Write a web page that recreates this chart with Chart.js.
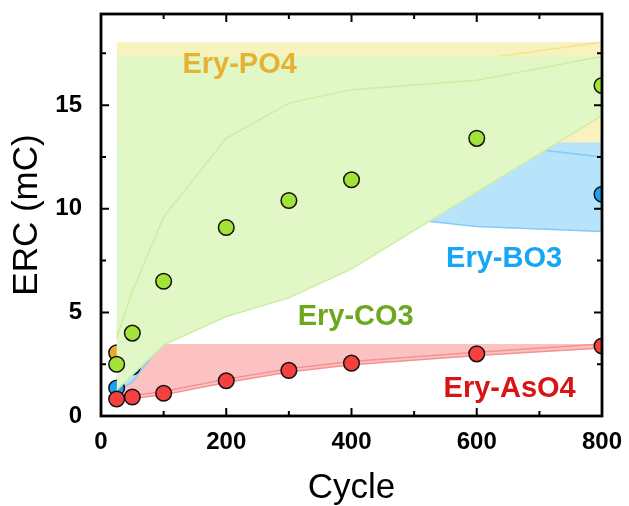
<!DOCTYPE html>
<html><head><meta charset="utf-8">
<script src="https://cdn.jsdelivr.net/npm/chart.js@4.4.1/dist/chart.umd.min.js"></script>
<style>html,body{margin:0;padding:0;background:#fff;}#wrap{width:629px;height:506px;}</style>
</head><body><div id="wrap"><canvas id="c" width="629" height="506"></canvas></div>
<script>
// ---- data ----
const cycles = [25, 50, 100, 200, 300, 400, 600, 800];
// Ery-PO4
const po4Mean  = [3.05, 5.0, 7.4, 10.3, 11.8, 12.9, 14.3, 15.4];
const po4Upper = [4.0, 6.4, 9.5, 13.0, 15.0, 16.0, 17.2, 18.05];
const po4Lower = [2.1, 3.6, 5.3, 7.6, 8.6, 9.8, 11.4, 12.75];
// Ery-AsO4
const aso4Mean  = [0.82, 0.92, 1.1, 1.7, 2.2, 2.55, 3.0, 3.38];
const aso4Upper = [0.89, 0.99, 1.18, 1.78, 2.28, 2.63, 3.08, 3.48];
const aso4Lower = [0.75, 0.85, 1.02, 1.62, 2.12, 2.47, 2.92, 3.28];
// Ery-BO3
const bo3Mean  = [1.35, 2.37, 4.55, 7.15, 9.15, 10.9, 11.3, 10.7];
const bo3Upper = [1.55, 3.1, 5.5, 8.5, 10.5, 12.0, 13.2, 12.5];
const bo3Lower = [1.15, 1.65, 3.6, 5.8, 7.8, 9.8, 9.15, 8.9];
// Ery-CO3
const co3Mean  = [2.5, 4.0, 6.5, 9.1, 10.4, 11.4, 13.4, 15.95];
const co3Upper = [3.77, 6.0, 9.6, 13.4, 15.1, 15.75, 16.2, 17.35];
const co3Lower = [1.25, 1.98, 3.43, 4.8, 5.7, 7.1, 10.8, 14.5];

const xTicks = [0, 200, 400, 600, 800];
const xMinor = [100, 300, 500, 700];
const yTicks = [0, 5, 10, 15];
const yMinor = [2.5, 7.5, 12.5, 17.5];

const labels = [
  {text: 'Ery-PO4',  x: 130, y: 16.55, color: '#e9b132'},
  {text: 'Ery-BO3',  x: 551, y: 7.2,   color: '#17a6f5'},
  {text: 'Ery-CO3',  x: 314, y: 4.4,   color: '#6ca81e'},
  {text: 'Ery-AsO4', x: 547, y: 0.93,  color: '#d81414'}
];

const pts = arr => cycles.map((c, i) => ({x: c, y: arr[i]}));
const maxOf = arr => Math.max(...arr);

function band(arr, color, fillColor, fillTo, order) {
  return {data: pts(arr), borderColor: color, borderWidth: 1.5, pointRadius: 0,
    tension: 0, fill: fillTo === null ? false : {value: fillTo}, backgroundColor: fillColor, order};
}
function dots(arr, color, order) {
  return {data: pts(arr), showLine: false, pointRadius: 7.8, pointBorderWidth: 1.5,
    pointBackgroundColor: color, pointBorderColor: '#111', fill: false, order};
}

const datasets = [
  band(po4Lower, 'rgba(240,228,140,1)', 'rgb(247,242,190)', maxOf(po4Upper), 20),
  band(po4Upper, 'rgb(242,230,140)', 'transparent', null, 19),
  dots(po4Mean, '#e8a92c', 18),
  band(aso4Lower, 'rgb(245,145,145)', 'rgb(252,194,194)', maxOf(aso4Upper), 17),
  band(aso4Upper, 'rgb(245,145,145)', 'transparent', null, 16),
  band(bo3Lower, 'rgb(130,202,250)', 'rgb(184,228,251)', maxOf(bo3Upper), 15),
  band(bo3Upper, 'rgb(130,202,250)', 'transparent', null, 14),
  dots(bo3Mean, '#17a2f4', 13),
  band(co3Lower, 'rgb(204,238,164)', 'rgb(225,247,197)', maxOf(co3Upper), 12),
  band(co3Upper, 'rgb(204,238,164)', 'transparent', null, 11),
  dots(co3Mean, '#a3e236', 10),
  dots(aso4Mean, '#f4403f', 9)
];

const framePlugin = {
  id: 'frame',
  afterDatasetsDraw(chart) {
    const {ctx, chartArea: a, scales: {x, y}} = chart;
    ctx.save();
    ctx.font = 'bold 29px "Liberation Sans", Arial, sans-serif';
    ctx.textAlign = 'left'; ctx.textBaseline = 'alphabetic';
    labels.forEach(l => { ctx.fillStyle = l.color; ctx.fillText(l.text, x.getPixelForValue(l.x), y.getPixelForValue(l.y)); });
    ctx.strokeStyle = '#000';
    ctx.lineWidth = 2;
    const tick = (vals, len) => {
      vals.forEach(v => {
        const px = x.getPixelForValue(v);
        ctx.beginPath(); ctx.moveTo(px, a.bottom); ctx.lineTo(px, a.bottom - len);
        ctx.moveTo(px, a.top); ctx.lineTo(px, a.top + len); ctx.stroke();
      });
    };
    const ytick = (vals, len) => {
      vals.forEach(v => {
        const py = y.getPixelForValue(v);
        ctx.beginPath(); ctx.moveTo(a.left, py); ctx.lineTo(a.left + len, py);
        ctx.moveTo(a.right, py); ctx.lineTo(a.right - len, py); ctx.stroke();
      });
    };
    tick(xTicks, 8); tick(xMinor, 5);
    ytick(yTicks, 8); ytick(yMinor, 5);
    ctx.lineWidth = 2.8;
    ctx.strokeRect(a.left, a.top, a.right - a.left, a.bottom - a.top);
    ctx.restore();
  }
};

new Chart(document.getElementById('c'), {
  type: 'line',
  data: {datasets},
  options: {
    responsive: false, animation: false, devicePixelRatio: 1,
    layout: {padding: {left: 0, right: 27, top: 14, bottom: 0}},
    plugins: {legend: {display: false}, tooltip: {enabled: false}, filler: {drawTime: 'beforeDatasetDraw'}},
    scales: {
      x: {type: 'linear', min: 0, max: 800,
        grid: {display: false}, border: {display: false},
        afterBuildTicks: s => { s.ticks = xTicks.map(v => ({value: v})); },
        afterFit: s => { s.height = 90; },
        ticks: {color: '#000', padding: 4, maxRotation: 0, font: {family: '"Liberation Sans", Arial, sans-serif', size: 24, weight: 'bold'}},
        title: {display: true, text: 'Cycle', color: '#000', padding: {top: 0, bottom: 0},
          font: {family: '"Liberation Sans", Arial, sans-serif', size: 35, lineHeight: 1}}
      },
      y: {type: 'linear', min: 0, max: 19.4,
        grid: {display: false}, border: {display: false},
        afterBuildTicks: s => { s.ticks = yTicks.map(v => ({value: v})); },
        afterFit: s => { s.width = 101; s.paddingTop = 0; s.paddingBottom = 0; },
        ticks: {color: '#000', padding: 11, font: {family: '"Liberation Sans", Arial, sans-serif', size: 24, weight: 'bold'}},
        title: {display: true, text: 'ERC (mC)', color: '#000', padding: {top: 10, bottom: 0},
          font: {family: '"Liberation Sans", Arial, sans-serif', size: 35, lineHeight: 1}}
      }
    }
  },
  plugins: [framePlugin]
});
</script></body></html>
